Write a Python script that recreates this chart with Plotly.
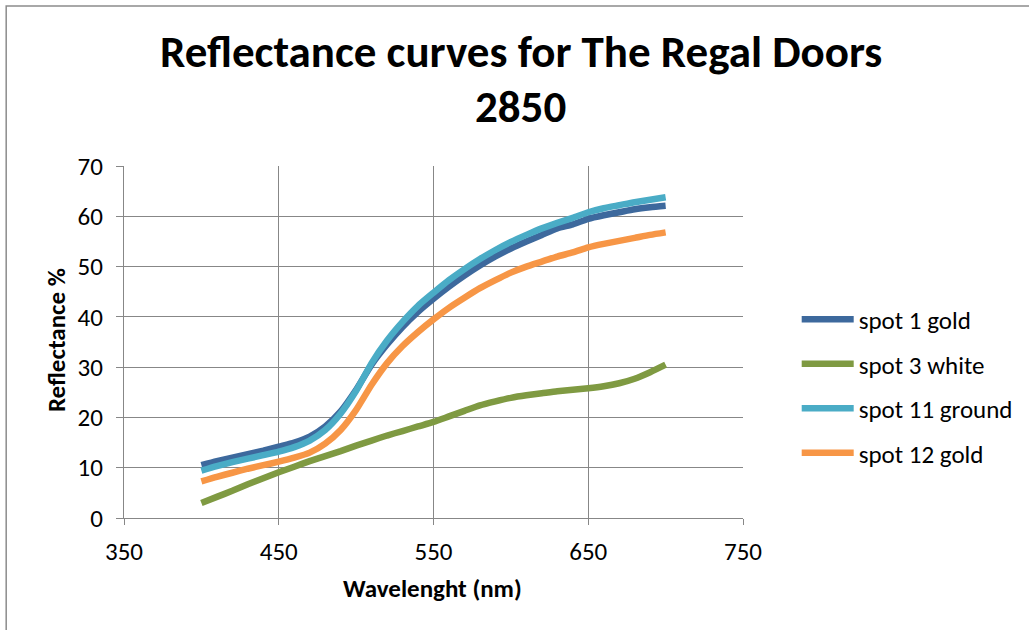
import plotly.graph_objects as go

wavelength = [400, 410, 420, 430, 440, 450, 460, 470, 480, 490, 500, 510, 520, 530, 540, 550,
              560, 570, 580, 590, 600, 610, 620, 630, 640, 650, 660, 670, 680, 690, 700]

spot1_gold = [10.5, 11.3, 12.0, 12.7, 13.4, 14.2, 15.0, 16.2, 18.2, 21.2, 25.5, 30.5, 34.5, 38.0, 41.0, 43.6,
              46.0, 48.2, 50.2, 52.0, 53.6, 55.0, 56.3, 57.6, 58.4, 59.5, 60.2, 60.8, 61.4, 61.8, 62.1]
spot3_white = [3.0, 4.2, 5.4, 6.7, 7.9, 9.1, 10.2, 11.3, 12.3, 13.3, 14.4, 15.4, 16.4, 17.3, 18.2, 19.1,
               20.2, 21.3, 22.4, 23.2, 23.9, 24.4, 24.8, 25.2, 25.5, 25.8, 26.2, 26.8, 27.7, 29.0, 30.5]
spot11_ground = [9.4, 10.3, 11.1, 11.8, 12.5, 13.2, 14.1, 15.4, 17.5, 20.8, 25.3, 30.8, 35.3, 39.0, 42.2, 44.8,
                 47.3, 49.5, 51.5, 53.3, 54.9, 56.3, 57.6, 58.7, 59.7, 60.8, 61.6, 62.2, 62.8, 63.3, 63.8]
spot12_gold = [7.3, 8.2, 9.0, 9.8, 10.5, 11.2, 12.0, 13.0, 14.8, 17.5, 21.5, 26.5, 30.8, 34.2, 37.0, 39.5,
               41.8, 43.8, 45.7, 47.3, 48.8, 50.0, 51.0, 52.0, 52.8, 53.8, 54.5, 55.1, 55.7, 56.3, 56.8]

series_names = ["spot 1 gold", "spot 3 white", "spot 11 ground", "spot 12 gold"]
series_values = [spot1_gold, spot3_white, spot11_ground, spot12_gold]
series_colors = ["#3D699D", "#7F9A42", "#4AACC6", "#F79646"]

x_ticks = [350, 450, 550, 650, 750]
y_ticks = [0, 10, 20, 30, 40, 50, 60, 70]

FONT = "Carlito, Lato, 'Open Sans', sans-serif"

fig = go.Figure()
for i, (name, vals, col) in enumerate(zip(series_names, series_values, series_colors)):
    fig.add_trace(go.Scatter(
        x=wavelength, y=vals, name=name, mode="lines",
        line=dict(color=col, width=6.5, shape="spline", smoothing=0.6),
        legendgroup=f"g{i}",
    ))

grid_col = "#878787"
fig.update_layout(
    width=1029, height=630,
    margin=dict(l=124, r=285, t=166, b=112),
    paper_bgcolor="white", plot_bgcolor="white",
    font=dict(family=FONT, color="black"),
    showlegend=True,
    legend=dict(
        x=1.085, xanchor="left", y=0.375, yanchor="middle",
        font=dict(family=FONT, size=25, color="black"),
        itemwidth=52, tracegroupgap=9, traceorder="grouped",
        bgcolor="rgba(0,0,0,0)",
    ),
    xaxis=dict(
        range=[350, 750], tickmode="array", tickvals=x_ticks,
        showgrid=True, gridcolor=grid_col, gridwidth=1.3,
        showline=True, linecolor=grid_col, linewidth=1.3, mirror=False,
        ticks="outside", ticklen=6, tickcolor=grid_col, ticklabelstandoff=5,
        tickfont=dict(family=FONT, size=25, color="black"),
        zeroline=False,
    ),
    yaxis=dict(
        range=[0, 70], tickmode="array", tickvals=y_ticks,
        showgrid=True, gridcolor=grid_col, gridwidth=1.3,
        showline=True, linecolor=grid_col, linewidth=1.3, mirror=False,
        ticks="outside", ticklen=7, tickcolor=grid_col, ticklabelstandoff=8,
        tickfont=dict(family=FONT, size=25, color="black"),
        zeroline=False,
    ),
    annotations=[
        dict(text="<b>Reflectance curves for The Regal Doors</b>", xref="paper", yref="paper",
             x=(522 - 124) / 620, y=(518 - 52) / 352, xanchor="center", yanchor="middle",
             showarrow=False, font=dict(family=FONT, size=45, color="black")),
        dict(text="<b>2850</b>", xref="paper", yref="paper",
             x=(521 - 124) / 620, y=(518 - 107) / 352, xanchor="center", yanchor="middle",
             showarrow=False, font=dict(family=FONT, size=45, color="black")),
        dict(text="<b>Wavelenght (nm)</b>", xref="paper", yref="paper",
             x=(433 - 124) / 620, y=(518 - 588) / 352, xanchor="center", yanchor="middle",
             showarrow=False, font=dict(family=FONT, size=25, color="black")),
        dict(text="<b>Reflectance %</b>", xref="paper", yref="paper", textangle=-90,
             x=(56 - 124) / 620, y=(518 - 340) / 352, xanchor="center", yanchor="middle",
             showarrow=False, font=dict(family=FONT, size=25, color="black")),
    ],
    shapes=[
        dict(type="rect", xref="paper", yref="paper",
             x0=(6 - 124) / 620, x1=(1040 - 124) / 620,
             y0=(518 - 650) / 352, y1=(518 - 6) / 352,
             line=dict(color="#8C8C8C", width=1.5), fillcolor="rgba(0,0,0,0)", layer="below"),
    ],
)

fig.write_html("out.html", config={"displayModeBar": False},
               post_script="document.body.style.margin='0';document.body.style.overflow='hidden';")
